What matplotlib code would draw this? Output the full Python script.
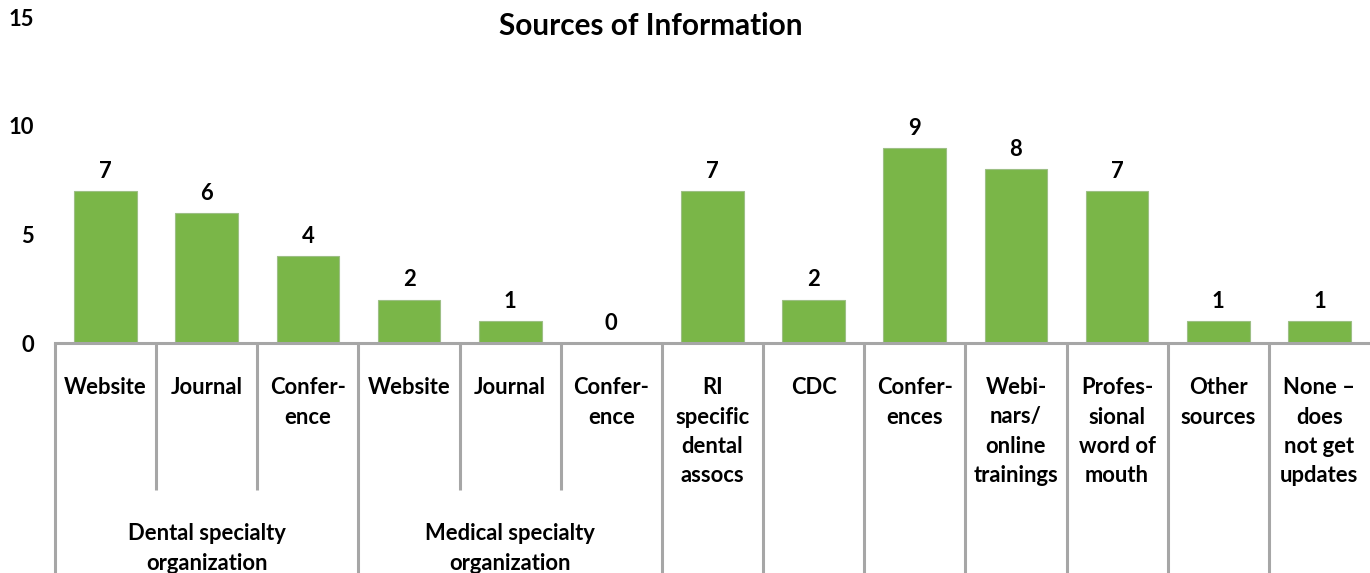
import matplotlib
matplotlib.use("Agg")
import matplotlib.pyplot as plt
import numpy as np

# data
categories = ["Website", "Journal", "Confer-\nence",
              "Website", "Journal", "Confer-\nence",
              "RI\nspecific\ndental\nassocs", "CDC", "Confer-\nences",
              "Webi-\nnars/\nonline\ntrainings", "Profes-\nsional\nword of\nmouth",
              "Other\nsources", "None –\ndoes\nnot get\nupdates"]
counts = [7, 6, 4, 2, 1, 0, 7, 2, 9, 8, 7, 1, 1]
groups = ["Dental specialty\norganization", "Medical specialty\norganization"]
group_spans = [(0, 2), (3, 5)]
yticks = [0, 5, 10, 15]

plt.rcParams['font.family'] = ['Lato', 'DejaVu Sans']
plt.rcParams['font.weight'] = 'bold'

GREEN = "#7AB648"
GRAY = "#A6A6A6"
FS = 15.8

fig = plt.figure(figsize=(13.7, 5.73), dpi=100)
ax = fig.add_axes([55 / 1370, 230 / 573, 1 - 55 / 1370, 325.5 / 573])

x = np.arange(len(categories))
ax.bar(x, counts, width=0.62, color=GREEN, edgecolor="#9DBF85", linewidth=0.8)
for xi, v in zip(x, counts):
    ax.text(xi, v + 0.42, str(v), ha="center", va="bottom", fontsize=FS, fontweight="bold")

ax.set_xlim(-0.5, len(categories) - 0.5)
ax.set_ylim(0, 15)
ax.set_yticks(yticks)
ax.tick_params(axis="y", length=0, pad=15, labelsize=FS)
ax.set_xticks([])
for s in ["top", "right", "left"]:
    ax.spines[s].set_visible(False)
ax.spines["bottom"].set_color(GRAY)
ax.spines["bottom"].set_linewidth(2.2)
for lab in ax.get_yticklabels():
    lab.set_fontweight("bold")

trans = ax.get_xaxis_transform()
ph = 325.5
inner_bottom = -(490 - 343) / ph
full_bottom = -0.8

# separators: short ones inside a group, full ones at group edges
inside = set()
for a, b in group_spans:
    for k in range(a + 1, b + 1):
        inside.add(k)
for k in range(len(categories)):
    y0 = inner_bottom if k in inside else full_bottom
    ax.plot([k - 0.5, k - 0.5], [0, y0], transform=trans, color=GRAY,
            lw=2.2, clip_on=False, solid_capstyle="butt")

for xi, lab in zip(x, categories):
    ax.text(xi, -(377 - 343) / ph, lab, transform=trans, ha="center", va="top",
            fontsize=FS, fontweight="bold", linespacing=1.5)

for name, (a, b) in zip(groups, group_spans):
    ax.text((a + b) / 2, -(523 - 343) / ph, name, transform=trans, ha="center", va="top",
            fontsize=FS, fontweight="bold", linespacing=1.5)

fig.text(651 / 1370, 1 - 26 / 573, "Sources of Information", ha="center", va="center",
         fontsize=21.4, fontweight="bold")

fig.savefig("out.png", dpi=100)
